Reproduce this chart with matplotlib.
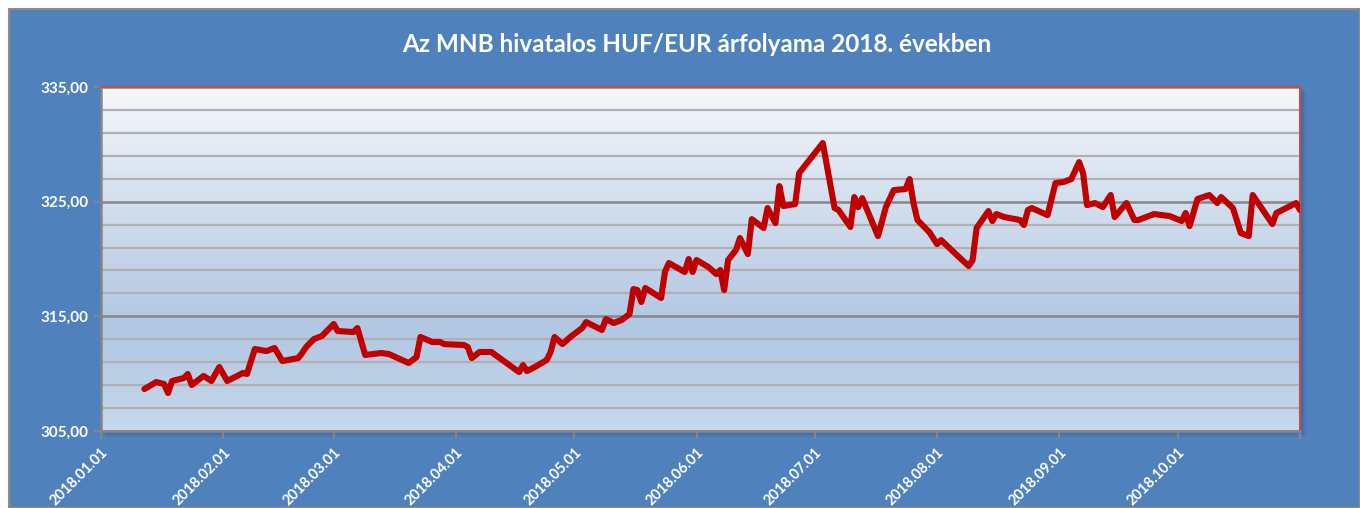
import numpy as np
import pandas as pd
import matplotlib
matplotlib.use("Agg")
import matplotlib.pyplot as plt
from matplotlib.colors import LinearSegmentedColormap
from matplotlib.patches import Rectangle

# ------ Data ------
TITLE = "Az MNB hivatalos HUF/EUR árfolyama 2018. években"

dates = [
    "2018-01-12", "2018-01-15", "2018-01-17", "2018-01-18", "2018-01-19", "2018-01-22",
    "2018-01-23", "2018-01-24", "2018-01-27", "2018-01-29", "2018-01-31", "2018-02-02",
    "2018-02-06", "2018-02-07", "2018-02-09", "2018-02-12", "2018-02-14", "2018-02-16",
    "2018-02-20", "2018-02-21", "2018-02-22", "2018-02-24", "2018-02-26", "2018-03-01",
    "2018-03-02", "2018-03-06", "2018-03-07", "2018-03-09", "2018-03-13", "2018-03-15",
    "2018-03-20", "2018-03-22", "2018-03-23", "2018-03-26", "2018-03-28", "2018-03-29",
    "2018-04-03", "2018-04-04", "2018-04-05", "2018-04-07", "2018-04-10", "2018-04-11",
    "2018-04-17", "2018-04-18", "2018-04-19", "2018-04-21", "2018-04-24", "2018-04-25",
    "2018-04-26", "2018-04-28", "2018-04-30", "2018-05-03", "2018-05-04", "2018-05-08",
    "2018-05-09", "2018-05-11", "2018-05-13", "2018-05-15", "2018-05-16", "2018-05-17",
    "2018-05-18", "2018-05-19", "2018-05-23", "2018-05-24", "2018-05-25", "2018-05-29",
    "2018-05-30", "2018-05-31", "2018-06-01", "2018-06-04", "2018-06-06", "2018-06-07",
    "2018-06-08", "2018-06-09", "2018-06-11", "2018-06-12", "2018-06-14", "2018-06-15",
    "2018-06-18", "2018-06-19", "2018-06-21", "2018-06-22", "2018-06-23", "2018-06-26",
    "2018-06-27", "2018-06-29", "2018-07-03", "2018-07-05", "2018-07-06", "2018-07-07",
    "2018-07-10", "2018-07-11", "2018-07-12", "2018-07-13", "2018-07-17", "2018-07-19",
    "2018-07-21", "2018-07-24", "2018-07-25", "2018-07-26", "2018-07-27", "2018-07-30",
    "2018-08-01", "2018-08-02", "2018-08-06", "2018-08-09", "2018-08-10", "2018-08-11",
    "2018-08-14", "2018-08-15", "2018-08-16", "2018-08-18", "2018-08-22", "2018-08-23",
    "2018-08-24", "2018-08-25", "2018-08-29", "2018-08-31", "2018-09-02", "2018-09-04",
    "2018-09-06", "2018-09-07", "2018-09-08", "2018-09-10", "2018-09-12", "2018-09-14",
    "2018-09-15", "2018-09-18", "2018-09-20", "2018-09-21", "2018-09-25", "2018-09-27",
    "2018-09-29", "2018-10-02", "2018-10-03", "2018-10-04", "2018-10-06", "2018-10-09",
    "2018-10-11", "2018-10-12", "2018-10-15", "2018-10-17", "2018-10-19", "2018-10-20",
    "2018-10-25", "2018-10-26", "2018-10-29", "2018-10-31", "2018-11-01",
]

huf_eur = [
    308.66, 309.27, 309.10, 308.31, 309.36, 309.62,
    309.97, 309.01, 309.80, 309.36, 310.58, 309.36,
    310.06, 309.97, 312.15, 311.97, 312.24, 311.10,
    311.36, 311.80, 312.32, 313.02, 313.28, 314.33,
    313.72, 313.63, 313.98, 311.63, 311.80, 311.71,
    310.93, 311.45, 313.20, 312.76, 312.76, 312.58,
    312.50, 312.32, 311.36, 311.89, 311.89, 311.63,
    310.14, 310.75, 310.23, 310.58, 311.19, 311.89,
    313.20, 312.58, 313.20, 313.98, 314.50, 313.81,
    314.76, 314.42, 314.68, 315.20, 317.38, 317.29,
    316.25, 317.47, 316.60, 318.90, 319.65, 318.86,
    320.00, 318.86, 319.91, 319.30, 318.69, 319.04,
    317.29, 319.91, 320.78, 321.83, 320.43, 323.48,
    322.70, 324.44, 323.13, 326.36, 324.62, 324.79,
    327.49, 328.37, 330.11, 326.36, 324.44, 324.27,
    322.79, 325.40, 324.53, 325.31, 322.00, 324.53,
    326.01, 326.10, 326.97, 324.88, 323.40, 322.35,
    321.30, 321.65, 320.34, 319.39, 319.91, 322.70,
    324.18, 323.31, 323.92, 323.66, 323.40, 322.96,
    324.27, 324.44, 323.83, 326.62, 326.71, 326.97,
    328.45, 327.49, 324.70, 324.88, 324.53, 325.58,
    323.66, 324.88, 323.40, 323.40, 323.92, 323.83,
    323.74, 323.31, 324.01, 322.87, 325.23, 325.58,
    324.88, 325.40, 324.44, 322.26, 322.00, 325.58,
    323.05, 324.01, 324.53, 324.88, 324.27,
]

x_start, x_end = "2018-01-01", "2018-11-01"
tick_dates = ["2018-01-01", "2018-02-01", "2018-03-01", "2018-04-01", "2018-05-01",
              "2018-06-01", "2018-07-01", "2018-08-01", "2018-09-01", "2018-10-01"]
y_ticks = [305, 315, 325, 335]

# ------ Style ------
BLUE = "#4F81BD"
RED = "#C00000"
FONT = ["Lato", "DejaVu Sans"]

fig = plt.figure(figsize=(13.6, 5.08), dpi=100, facecolor="white")

# outer blue chart area with grey border
fig.patches.append(Rectangle((9 / 1360, 0), 1 - 9 / 1360, 1 - 9 / 508,
                             transform=fig.transFigure, facecolor=BLUE,
                             edgecolor="#8C8C8C", linewidth=1.5, zorder=-2))

# soft shadow behind the plot area (a few stacked translucent layers)
for i, a in enumerate([0.10, 0.10, 0.12]):
    off = 6 - 2 * i
    fig.patches.append(Rectangle(((101 + off - 2) / 1360, 1 - (431 + off) / 508),
                                 (1199 + 2) / 1360, (344 + 2) / 508,
                                 transform=fig.transFigure, facecolor="#1F3A60",
                                 alpha=a, edgecolor="none", zorder=-1))

ax = fig.add_axes([101 / 1360, 1 - 431 / 508, 1199 / 1360, 344 / 508])
ax.set_zorder(2)

# gradient fill of plot area
cmap = LinearSegmentedColormap.from_list(
    "bg", [(0.0, "#C7D8EB"), (0.3, "#B1C7E2"), (0.7, "#D6E1EF"), (1.0, "#F6F8FC")])
grad = np.linspace(0, 1, 256).reshape(-1, 1)
ax.imshow(grad, cmap=cmap, aspect="auto", extent=[0, 1, 0, 1],
          transform=ax.transAxes, origin="lower", zorder=0)

x = pd.to_datetime(dates)
ax.plot(x, huf_eur, color=RED, linewidth=4.4, solid_joinstyle="round",
        solid_capstyle="round", zorder=3)

ax.set_xlim(pd.Timestamp(x_start), pd.Timestamp(x_end))
ax.set_ylim(305, 335)

# gridlines
ax.set_yticks(y_ticks)
ax.set_yticks(np.arange(305, 336, 2), minor=True)
ax.yaxis.grid(True, which="minor", color="#B0B0B0", linewidth=1.6, zorder=1)
ax.yaxis.grid(True, which="major", color="#868686", linewidth=1.8, zorder=1)
ax.set_axisbelow(True)
ax.set_yticklabels([f"{v:.2f}".replace(".", ",") for v in y_ticks],
                   color="white", fontweight="bold", fontsize=11, family=FONT)
ax.tick_params(axis="y", which="major", length=5, width=1.5, color="#868686", pad=4)
ax.tick_params(axis="y", which="minor", length=0)

ticks = list(pd.to_datetime(tick_dates)) + [pd.Timestamp(x_end)]
ax.set_xticks(ticks)
ax.set_xticklabels([pd.Timestamp(d).strftime("%Y.%m.%d") for d in tick_dates] + [""],
                   rotation=45, ha="right", va="top", rotation_mode="anchor",
                   color="white", fontweight="bold", fontsize=10.5, family=FONT)
ax.tick_params(axis="x", length=6, width=1.5, color="#868686", pad=4)

for side in ("left", "bottom"):
    ax.spines[side].set_color("#868686")
    ax.spines[side].set_linewidth(1.8)
for side in ("top", "right"):
    ax.spines[side].set_color("#C0504D")
    ax.spines[side].set_linewidth(1.5)

fig.text(697 / 1360, 1 - 45 / 508, TITLE, ha="center", va="center",
         color="white", fontweight="bold", fontsize=17.5, family=FONT)

fig.savefig("out.png", dpi=100, facecolor="white")
